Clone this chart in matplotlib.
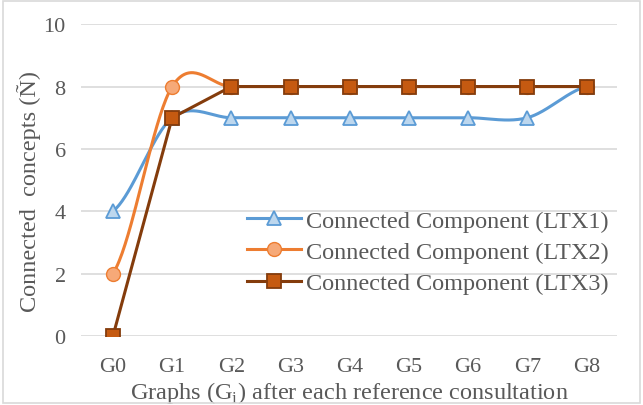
import numpy as np
import matplotlib.pyplot as plt
from matplotlib.patches import Rectangle

plt.rcParams['font.family'] = ['Liberation Serif', 'DejaVu Serif']

# ---------- data ------------------------------------------------------------
graphs = ["G0", "G1", "G2", "G3", "G4", "G5", "G6", "G7", "G8"]
ltx1 = [4, 7, 7, 7, 7, 7, 7, 7, 8]
ltx2 = [2, 8, 8, 8, 8, 8, 8, 8, 8]
ltx3 = [0, 7, 8, 8, 8, 8, 8, 8, 8]


# ---------- Excel-like smoothed line (Catmull-Rom through the points) -------
def smooth(y, n=40):
    y = np.asarray(y, dtype=float)
    x = np.arange(len(y), dtype=float)
    p = np.concatenate([[y[0]], y, [y[-1]]])
    xs, ys = [], []
    t = np.linspace(0, 1, n)
    for i in range(len(y) - 1):
        m0 = (p[i + 2] - p[i]) / 2
        m1 = (p[i + 3] - p[i + 1]) / 2
        h00 = 2 * t**3 - 3 * t**2 + 1
        h10 = t**3 - 2 * t**2 + t
        h01 = -2 * t**3 + 3 * t**2
        h11 = t**3 - t**2
        ys.append(h00 * y[i] + h10 * m0 + h01 * y[i + 1] + h11 * m1)
        xs.append(x[i] + t)
    return np.concatenate(xs), np.concatenate(ys)


fig = plt.figure(figsize=(6.43, 4.06), dpi=100)
ax = fig.add_axes([0.126, 0.17, 0.834, 0.768])
fig.patches.append(Rectangle((0.004, 0.005), 0.992, 0.99, transform=fig.transFigure,
                             fill=False, edgecolor='#d9d9d9', linewidth=1.2))

x = np.arange(len(graphs))
blue, orange, brown = '#5b9bd5', '#ed7d31', '#843c0c'

sx, sy = smooth(ltx1)
ax.plot(sx, sy, color=blue, lw=2.2, zorder=3)
ax.plot(x, ltx1, ls='none', marker='^', ms=10, mfc='#bdd7ee', mec=blue, mew=1.3, zorder=4)
sx, sy = smooth(ltx2)
ax.plot(sx, sy, color=orange, lw=2.2, zorder=3)
ax.plot(x, ltx2, ls='none', marker='o', ms=10, mfc='#f6a978', mec=orange, mew=1.0, zorder=4)
ax.plot(x, ltx3, color=brown, lw=2.2, zorder=3)
ax.plot(x, ltx3, ls='none', marker='s', ms=10, mfc='#c55a11', mec=brown, mew=1.3, zorder=4)

# legend handles
h1, = ax.plot([], [], color=blue, lw=2.2, marker='^', ms=10, mfc='#bdd7ee', mec=blue, mew=1.3)
h2, = ax.plot([], [], color=orange, lw=2.2, marker='o', ms=10, mfc='#f6a978', mec=orange, mew=1.0)
h3, = ax.plot([], [], color=brown, lw=2.2, marker='s', ms=10, mfc='#c55a11', mec=brown, mew=1.3)
ax.legend([h1, h2, h3],
          ["Connected Component (LTX1)", "Connected Component (LTX2)", "Connected Component (LTX3)"],
          loc='upper left', bbox_to_anchor=(0.31, 0.405), frameon=False, fontsize=17.5,
          labelcolor='#595959', handlelength=2.2, handletextpad=0.2, labelspacing=0.38,
          borderaxespad=0, borderpad=0)

ax.set_xlim(-0.54, 8.52)
ax.set_ylim(0, 10)
ax.set_xticks(x)
ax.set_xticklabels(graphs)
ax.set_yticks([0, 2, 4, 6, 8, 10])
ax.grid(axis='y', color='#d9d9d9', lw=1.2)
ax.set_axisbelow(True)
for s in ax.spines.values():
    s.set_visible(False)
ax.tick_params(length=0, labelsize=16, labelcolor='#595959', pad=15)
ax.tick_params(axis='y', pad=11)

ax.set_xlabel("Graphs (G$_\\mathregular{i}$) after each reference consultation",
              fontsize=17.5, color='#595959', labelpad=2)
ax.set_ylabel("Connected  concepts (Ñ)", fontsize=17.5, color='#595959')
ax.yaxis.set_label_coords(-0.075, 0.468)

fig.savefig('out.png', dpi=100)
